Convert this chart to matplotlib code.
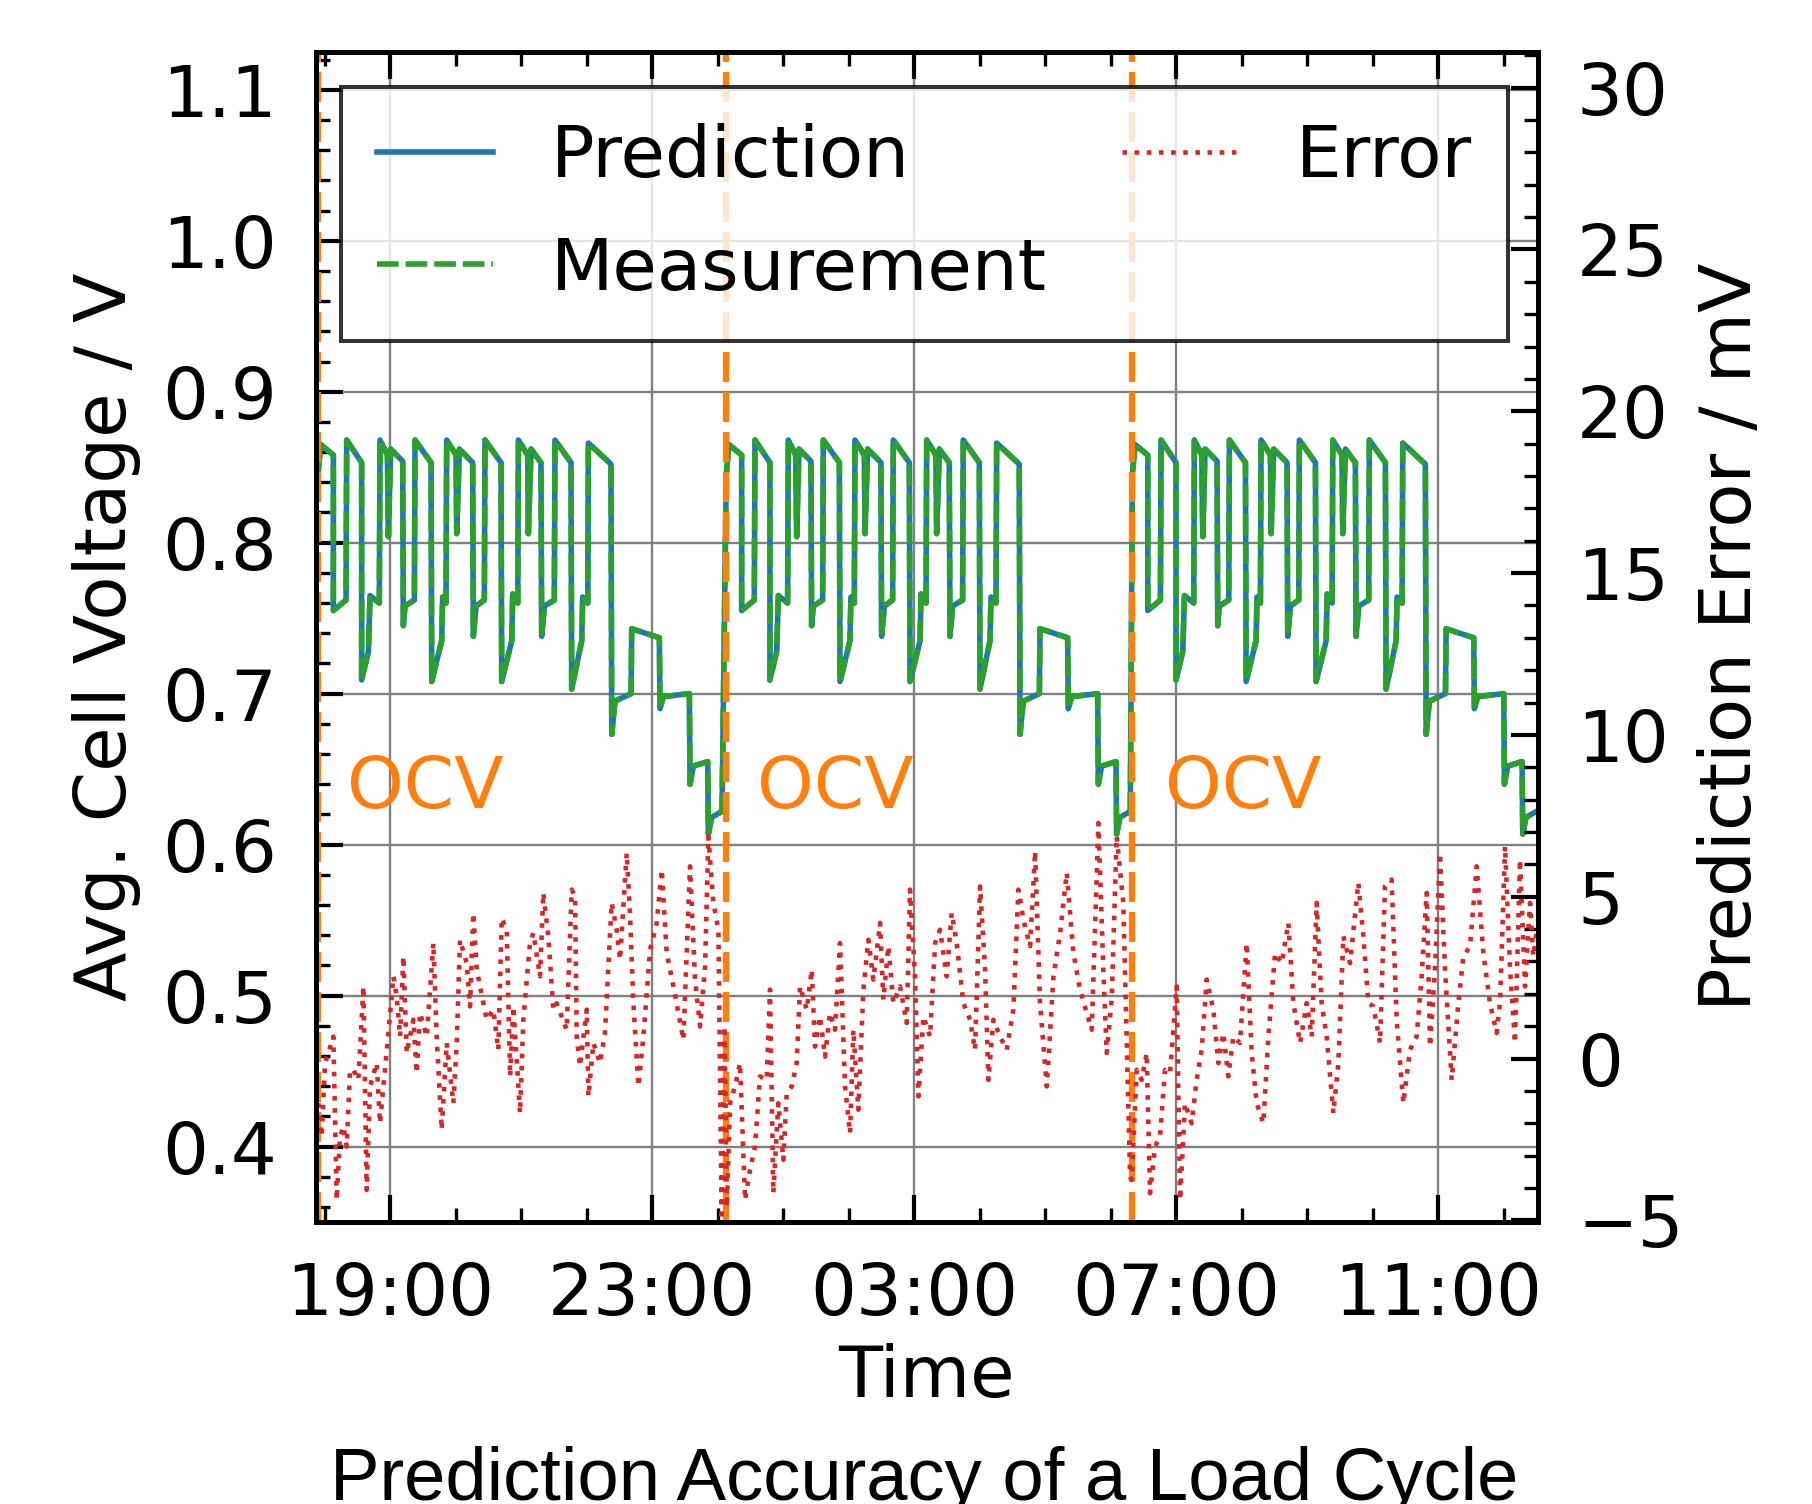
import matplotlib
matplotlib.use('Agg')
import matplotlib.pyplot as plt
import matplotlib.dates as mdates
from matplotlib.ticker import MultipleLocator
import numpy as np

plt.rcParams['font.family'] = ['DejaVu Sans']
plt.rcParams['font.size'] = 52

# all times are minutes after 18:00 of the first day
t0 = mdates.date2num(np.datetime64('2021-03-01T18:00'))

# one load cycle (minutes after cycle start, avg. cell voltage in V)
cyc_min = [0, 2.5, 14.1, 14.1, 25.7, 26.3, 40.0, 40.0, 46.2, 47.7, 56.2, 56.8,
           63.6, 64.5, 66.6, 77.6, 78.2, 79.7, 88.3, 88.9, 103.6, 104.2, 113.3,
           114.2, 117.3, 117.9, 126.5, 127.1, 129.5, 141.7, 142.3, 144.8, 152.4,
           153.0, 167.7, 168.3, 177.5, 178.4, 183.0, 183.6, 192.1, 192.7, 195.2,
           204.3, 204.9, 207.4, 216.5, 217.1, 231.8, 232.4, 241.6, 242.5, 247.1,
           247.7, 268.4, 269.1, 272.1, 286.8, 287.4, 312.7, 313.3, 316.4, 340.2,
           340.8, 343.9, 357.0, 357.6, 360.6, 370.1]
cyc_volt = [0.845, 0.865, 0.858, 0.755, 0.762, 0.868, 0.853, 0.709, 0.728, 0.765,
            0.760, 0.868, 0.858, 0.804, 0.862, 0.854, 0.745, 0.758, 0.762, 0.868,
            0.853, 0.708, 0.735, 0.764, 0.760, 0.868, 0.858, 0.806, 0.862, 0.853,
            0.738, 0.758, 0.762, 0.868, 0.853, 0.708, 0.735, 0.766, 0.760, 0.868,
            0.858, 0.806, 0.862, 0.853, 0.738, 0.758, 0.762, 0.868, 0.853, 0.703,
            0.735, 0.764, 0.760, 0.866, 0.852, 0.673, 0.695, 0.700, 0.743, 0.737,
            0.690, 0.698, 0.700, 0.640, 0.652, 0.655, 0.607, 0.618, 0.622]

# OCV events (start of each load cycle) and label positions
ocv_min = [-6, 368, 740]
ocv_label_min = [21, 396, 770]

# prediction error in mV
err_min = [-5.6, -2.6, 0.5, 8.1, 11.1, 14.2, 17.3, 20.3, 23.4, 26.4, 31.0, 35.6,
           38.6, 41.7, 47.8, 50.8, 58.5, 63.1, 66.1, 69.2, 72.2, 75.3, 81.4, 84.4,
           87.5, 93.6, 99.7, 102.7, 107.3, 111.9, 118.0, 121.1, 124.1, 130.2,
           133.3, 136.3, 139.4, 148.5, 154.6, 159.2, 162.3, 166.9, 170.0, 173.0,
           179.1, 182.1, 188.2, 191.3, 197.4, 200.4, 205.0, 209.6, 212.7, 221.8,
           226.4, 229.5, 231.0, 234.0, 240.2, 241.7, 246.3, 252.4, 256.9, 263.0,
           267.6, 270.7, 276.8, 279.8, 282.9, 287.5, 292.1, 298.2, 304.3, 308.9,
           313.4, 319.6, 324.1, 328.7, 334.8, 339.4, 344.0, 348.6, 351.6, 356.2,
           360.8, 363.8, 366.5, 368.5,
           371.5, 376.0, 380.6, 385.2, 389.8, 394.3, 398.9, 405.0, 408.1, 411.1,
           415.7, 420.3, 423.4, 428.0, 432.5, 435.6, 441.7, 446.3, 449.3, 453.9,
           458.5, 463.0, 467.6, 472.2, 476.8, 481.4, 484.4, 489.0, 493.6, 498.2,
           502.7, 508.9, 511.9, 516.5, 521.1, 527.2, 533.3, 536.3, 540.9, 544.0,
           548.6, 554.7, 559.3, 563.8, 569.9, 574.5, 579.1, 585.2, 591.3, 595.9,
           600.5, 605.1, 608.1, 612.7, 618.8, 624.9, 631.0, 635.6, 640.2, 646.3,
           650.9, 655.4, 661.6, 667.7, 673.8, 679.9, 686.0, 692.1, 698.2, 702.8,
           708.9, 713.4, 716.5, 721.1, 725.6, 731.7, 737.9,
           739.4, 744.0, 748.5, 753.1, 756.2, 760.8, 765.3, 769.9, 774.5, 780.6,
           783.7, 788.2, 794.3, 798.9, 803.5, 808.1, 814.2, 818.8, 823.3, 827.9,
           832.5, 838.6, 844.7, 849.3, 853.9, 860.0, 864.6, 870.7, 876.8, 882.9,
           887.5, 893.6, 899.7, 904.3, 908.8, 913.4, 918.0, 924.1, 928.7, 933.3,
           939.4, 947.0, 951.6, 956.2, 960.8, 966.9, 971.4, 977.5, 982.1, 988.2,
           994.3, 1000.4, 1005.0, 1009.6, 1012.7, 1017.2, 1021.8, 1026.4, 1032.5,
           1038.6, 1043.2, 1049.3, 1055.4, 1061.5, 1067.6, 1073.7, 1076.8, 1081.4,
           1086.0, 1090.5, 1095.1, 1099.7, 1104.3, 1107.3, 1110.7]
err_mv = [-1.38, -2.41, -0.14, 0.68, -4.37, -2.41, -2.10, -2.72, -0.35, -0.35, -0.66,
          2.23, -4.06, -0.86, -0.14, -2.0, 0.79, 2.54, 1.92, 0.68, 3.16, 0.17, 1.2,
          -0.45, 1.41, 0.68, 3.57, 0.68, -2.20, 0.48, -1.38, 0.48, 3.67, 2.95, 1.61,
          4.5, 2.75, 1.2, 1.51, 0.27, 4.34, 3.98, -0.55, 1.61, -1.69, 1.2, 3.57,
          3.88, 2.54, 5.12, 3.78, 1.51, 1.71, 0.89, 5.22, 5.01, 0.68, -0.24, 1.51,
          -1.17, 0.48, -0.14, 0.79, 4.81, 3.98, 3.05, 6.35, 4.5, 1.71, -0.86, 0.68,
          3.36, 4.19, 5.84, 3.26, 2.23, 1.41, 0.58, 5.94, 2.44, 0.99, 2.85, 6.87,
          4.81, 3.98, -4.99, 1.0, -4.6,
          -1.38, -0.86, -0.14, -4.37, -3.44, -2.72, -0.55, -0.66, 2.13, -4.16,
          -1.38, -3.13, -1.07, -0.86, -0.14, 2.23, 1.51, 2.75, 0.37, 1.3, 0.06,
          1.41, 0.89, 3.57, -0.86, -2.31, 0.89, -1.58, 2.13, 3.67, 2.44, 4.19,
          1.82, 3.47, 1.71, 2.23, 1.1, 5.22, 2.54, -1.17, 1.3, 0.68, 3.57, 3.98,
          2.54, 4.5, 3.57, 1.71, 1.2, 0.27, 5.32, 2.75, -0.66, 1.2, 0.68, 0.27,
          1.51, 5.22, 4.29, 3.47, 6.41, 1.71, -0.86, 2.54, 3.88, 5.74, 3.26, 2.13,
          1.41, 0.89, 7.28, 2.75, 0.17, 1.82, 6.87, 4.81, -3.65,
          -3.75, -0.35, -0.66, 0.17, -4.16, -2.72, -2.41, -0.35, -0.45, 2.23,
          -4.37, -1.38, -2.0, -0.66, 0.27, 2.44, 1.51, -0.14, 0.79, -0.55, 0.68,
          0.48, 3.57, 0.17, -1.38, -2.0, 0.68, 3.26, 2.95, 4.19, 1.71, 0.48, 1.71,
          0.68, 4.81, 1.71, 0.68, -1.69, -0.14, 3.78, 2.95, 5.43, 3.78, 1.71, 1.61,
          0.48, 5.32, 5.53, 1.2, -1.38, 0.27, 0.68, 2.54, 5.12, 0.37, 2.75, 6.35,
          2.75, -0.66, 1.71, 3.16, 3.47, 5.94, 3.26, 1.71, 0.79, 1.71, 6.56, 2.75,
          0.48, 6.15, 2.23, 4.81, 3.16, 3.98]

# voltage trace: the load cycle repeated after every OCV event
volt_min = np.concatenate([s + np.array(cyc_min) for s in ocv_min])
volt = np.tile(cyc_volt, len(ocv_min))
volt_x = t0 + volt_min / 1440
err_x = t0 + np.array(err_min) / 1440

fig = plt.figure(figsize=(18.12, 15.04), dpi=100)
ax = fig.add_axes([0.1744, 0.1875, 0.6744, 0.7779])
ax2 = ax.twinx()

ax.plot(volt_x, volt, color='tab:blue', lw=4, label='Prediction')
ax.plot(volt_x, volt, color='tab:green', lw=4, ls=(0, (3.9, 1.25)), label='Measurement')
for m in ocv_min:
    ax.axvline(t0 + m / 1440, color='tab:orange', lw=4.5, ls=(0, (4.8, 1.6)), zorder=3)
for m in ocv_label_min:
    ax.text(t0 + m / 1440, 0.624, 'OCV', color='tab:orange', ha='left', va='baseline')

ax2.plot(err_x, err_mv, color='tab:red', lw=3.3, ls=':', label='Error')

ax.set_xlim(t0 - 7.8 / 1440, t0 + 1111.6 / 1440)
ax.set_ylim(0.35, 1.125)
ax2.set_ylim(-5.05, 31.1)

ax.xaxis.set_major_locator(mdates.HourLocator(byhour=range(3, 24, 4)))
ax.xaxis.set_minor_locator(mdates.HourLocator())
ax.xaxis.set_major_formatter(mdates.DateFormatter('%H:%M'))
ax.yaxis.set_major_locator(MultipleLocator(0.1))
ax.yaxis.set_minor_locator(MultipleLocator(0.02))
ax2.yaxis.set_major_locator(MultipleLocator(5))
ax2.yaxis.set_minor_locator(MultipleLocator(1))

ax.tick_params(which='major', direction='in', length=19.5, width=3, pad=28)
ax.tick_params(which='minor', direction='in', length=10, width=2.4)
ax.tick_params(axis='x', which='both', top=True)
ax.tick_params(axis='y', which='both', right=False)
ax2.tick_params(which='major', direction='in', length=19.5, width=3, pad=28)
ax2.tick_params(which='minor', direction='in', length=10, width=2.4)

for a in (ax, ax2):
    for sp in a.spines.values():
        sp.set_linewidth(3.6)

ax.grid(True, which='major', color='0.5', lw=1.7)

ax.set_xlabel('Time')
ax.xaxis.set_label_coords(0.5, -0.103)
ax.set_ylabel('Avg. Cell Voltage / V')
ax.yaxis.set_label_coords(-0.143, 0.5)
ax2.set_ylabel('Prediction Error / mV')
ax2.yaxis.set_label_coords(1.130, 0.5)

h1, l1 = ax.get_legend_handles_labels()
h2, l2 = ax2.get_legend_handles_labels()
leg = ax2.legend(h1 + h2, l1 + l2, ncol=2, loc='upper left',
                 bbox_to_anchor=(0.0205, 0.970), borderaxespad=0,
                 fancybox=False, edgecolor='k', framealpha=0.8,
                 borderpad=0.5, labelspacing=0.6,
                 handlelength=1.6, columnspacing=1.05)
leg.get_frame().set_linewidth(2.9)

# caption below the chart (cut at the bottom edge as in the source figure)
fig.text(0.51, 0.0027, 'Prediction Accuracy of a Load Cycle',
         family=['Liberation Sans'], ha='center', va='baseline', fontsize=53.5)

fig.savefig('out.png', dpi=100)
